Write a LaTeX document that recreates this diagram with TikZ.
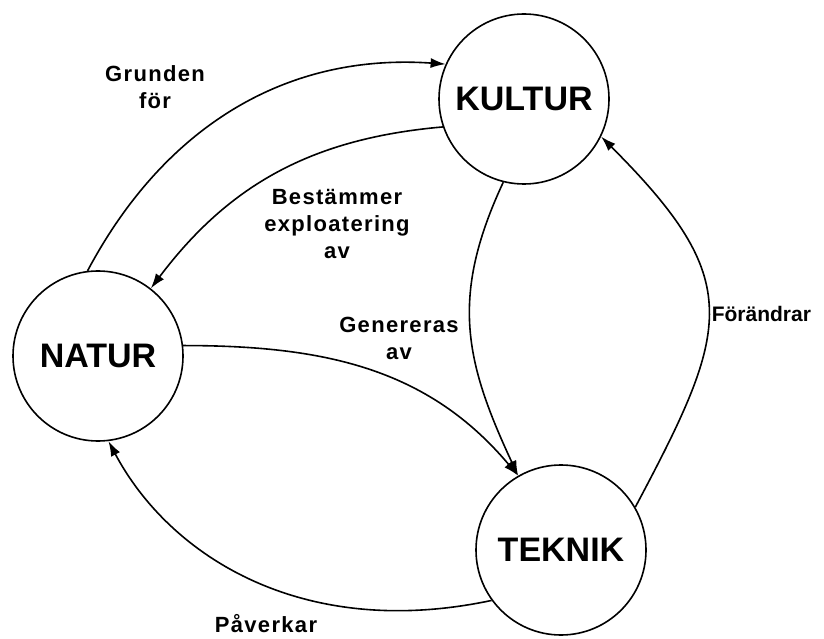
\documentclass[tikz,border=0pt]{standalone}
\usepackage{fontspec}
\setmainfont{Liberation Sans}
\usetikzlibrary{arrows.meta}
\begin{document}
\begin{tikzpicture}[x=1pt, y=1pt, line width=1.6pt,
  main/.style = {draw, circle, minimum size=170pt, inner sep=0pt,
    font=\fontsize{34}{34}\selectfont\bfseries},
  lbl/.style = {align=center,
    font=\fontsize{22}{27}\selectfont\bfseries\addfontfeatures{LetterSpace=6}},
  >={Latex[length=15pt,width=10pt]}]
\useasboundingbox (0,0) rectangle (824,638);
\node[main] (kultur) at (524,539) {KULTUR};
\node[main] (natur) at (98,282) {NATUR};
\node[main] (teknik) at (561,88) {TEKNIK};
\draw[->] (natur.97) to[out=62, in=176] (kultur.156);
\draw[->] (kultur.199) to[out=185, in=53] (natur.52);
\draw[->] (natur.7) to[out=0, in=130] (teknik.120);
\draw[->] (kultur.256) to[out=245, in=115, looseness=1.1] (teknik.120);
\draw[->] (teknik.30) to[out=62, in=315, looseness=1.4] (kultur.334);
\draw[->] (teknik.216) to[out=192, in=298, out looseness=1.2, in looseness=0.8] (natur.277);
\node[lbl] (grunden) at (155,551) {Grunden\\för};
\node[lbl] (bestammer) at (337,414) {Bestämmer\\exploatering\\av};
\node[lbl] (genereras) at (399,300) {Genereras\\av};
\node[lbl, anchor=west, inner sep=0pt,
  font=\fontsize{21}{27}\selectfont\bfseries] (forandrar) at (711,324) {Förändrar};
\node[lbl, anchor=base] (paverkar) at (266,6) {Påverkar};
\end{tikzpicture}
\end{document}
